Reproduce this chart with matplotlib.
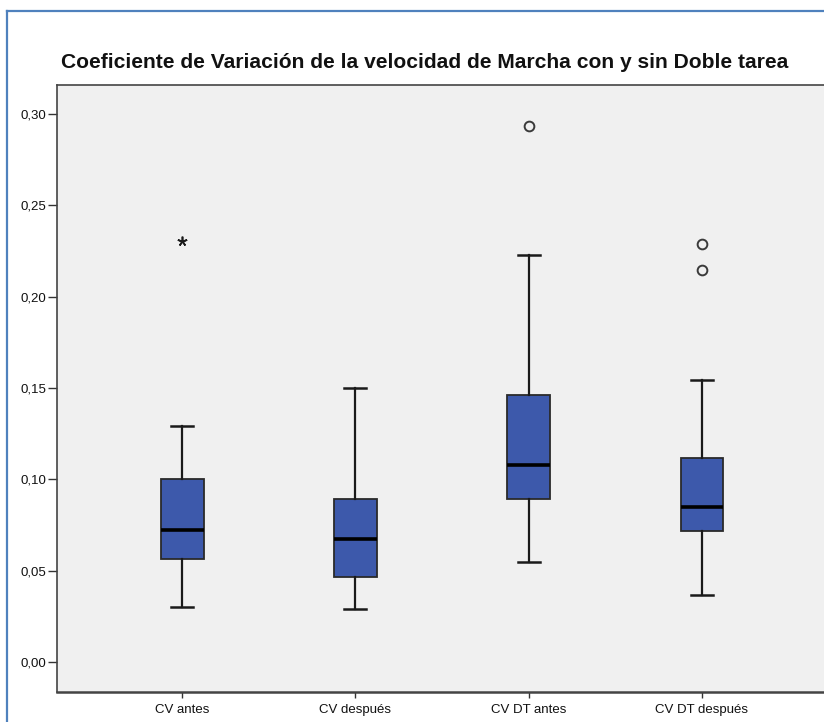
import matplotlib
matplotlib.use("Agg")
import matplotlib.pyplot as plt
from matplotlib.lines import Line2D

plt.rcParams['font.family'] = ['Liberation Sans', 'DejaVu Sans']

# Summary statistics per group (coefficient of variation of gait speed)
categories = ["CV antes", "CV después", "CV DT antes", "CV DT después"]
whisker_low = [0.0299, 0.0292, 0.0546, 0.0367]
q1 = [0.0566, 0.0465, 0.0891, 0.0719]
medians = [0.0723, 0.0672, 0.1080, 0.0849]
q3 = [0.1002, 0.0893, 0.1460, 0.1117]
whisker_high = [0.1290, 0.1500, 0.2226, 0.1542]
outliers = [[], [], [0.2936], [0.2290, 0.2144]]
extremes = [[0.2305], [], [], []]

y_ticks = [0.00, 0.05, 0.10, 0.15, 0.20, 0.25, 0.30]
y_tick_labels = ["0,00", "0,05", "0,10", "0,15", "0,20", "0,25", "0,30"]
title = "Coeficiente de Variación de la velocidad de Marcha con y sin Doble tarea"

W, H = 824, 722
fig = plt.figure(figsize=(W / 100, H / 100), dpi=100)
fig.patch.set_facecolor("white")

# axes rectangle in pixels
left_px, right_px, top_px, bottom_px = 57, 828, 85, 692
ax = fig.add_axes([left_px / W, 1 - bottom_px / H,
                   (right_px - left_px) / W, (bottom_px - top_px) / H])
ax.set_facecolor("#f0f0f0")

stats = []
for i, name in enumerate(categories):
    stats.append(dict(label=name, whislo=whisker_low[i], q1=q1[i], med=medians[i],
                      q3=q3[i], whishi=whisker_high[i], fliers=outliers[i]))

positions = list(range(1, len(categories) + 1))
ax.bxp(stats, positions=positions, widths=0.248, patch_artist=True,
       boxprops=dict(facecolor="#3d59ab", edgecolor="#2a2a2a", linewidth=1.3),
       medianprops=dict(color="black", linewidth=2.6, solid_capstyle="butt"),
       whiskerprops=dict(color="#1a1a1a", linewidth=1.6),
       capprops=dict(color="#1a1a1a", linewidth=1.8),
       capwidths=0.127,
       flierprops=dict(marker="o", markersize=7, markerfacecolor="none",
                       markeredgecolor="#3a3a3a", markeredgewidth=1.4))

for pos, vals in zip(positions, extremes):
    for v in vals:
        ax.plot([pos], [v], marker=(5, 2, 0), markersize=7, color="#1a1a1a",
                markeredgewidth=1.2, linestyle="none")

ax.set_xlim(0.2787, 4.727)
ax.set_ylim(-0.01642, 0.3159)
ax.set_xticks(positions)
ax.set_xticklabels(categories)
ax.set_yticks(y_ticks)
ax.set_yticklabels(y_tick_labels)
ax.tick_params(axis="y", length=6.5, width=1.0, color="#333333", pad=1,
               labelsize=9.5, labelcolor="#111111")
ax.tick_params(axis="x", length=4.5, width=1.0, color="#333333", pad=4,
               labelsize=9.5, labelcolor="#111111")

for side in ["left", "bottom", "top"]:
    ax.spines[side].set_color("#444444")
    ax.spines[side].set_linewidth(1.2)
ax.spines["bottom"].set_linewidth(1.8)
ax.spines["right"].set_visible(False)

# chart title, sized to span the header width
t = fig.text(425 / W, 1 - 62 / H, title, ha="center", va="center",
             fontsize=13, fontweight="bold", color="#111111")
fig.canvas.draw()
width_px = t.get_window_extent().width
t.set_fontsize(13 * 724 / width_px)

# outer frame
frame_color = "#4f81bd"
fig.add_artist(Line2D([7.5 / W, 1.0], [1 - 11 / H, 1 - 11 / H],
                      color=frame_color, linewidth=1.6, transform=fig.transFigure))
fig.add_artist(Line2D([7.5 / W, 7.5 / W], [0.0, 1 - 11 / H],
                      color=frame_color, linewidth=1.6, transform=fig.transFigure))

fig.savefig("out.png", dpi=100)
